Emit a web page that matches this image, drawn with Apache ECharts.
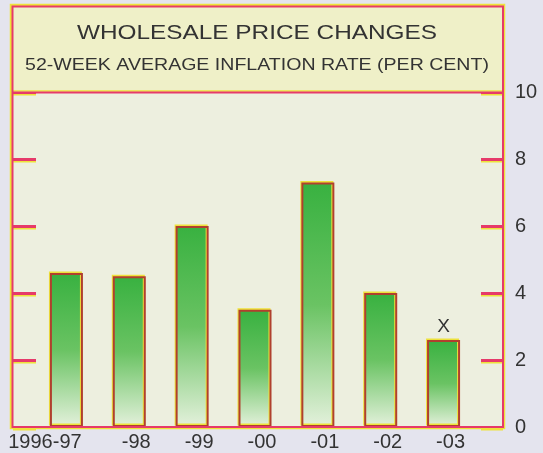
<!DOCTYPE html>
<html>
<head>
<meta charset="utf-8">
<script src="https://cdn.jsdelivr.net/npm/echarts@6/dist/echarts.min.js"></script>
<style>
  html, body { margin: 0; padding: 0; background: #e4e4ee; }
  #chart { width: 543px; height: 453px; }
</style>
</head>
<body>
<div id="chart"></div>
<script>
const categories = ['1996-97', '-98', '-99', '-00', '-01', '-02', '-03'];
const inflation = [4.6, 4.5, 6.0, 3.5, 7.3, 4.0, 2.6];
const markLabels = ['', '', '', '', '', '', 'X'];
const yTicks = [0, 2, 4, 6, 8, 10];

const RED = '#e63a6a';
const YEL = '#eee23a';
const TXT = '#333333';

const chart = echarts.init(document.getElementById('chart'), null, { renderer: 'canvas' });

const barGradient = new echarts.graphic.LinearGradient(0, 0, 0, 1, [
  { offset: 0, color: '#38b140' },
  { offset: 0.5, color: '#6ac363' },
  { offset: 1, color: '#e4f1dc' }
]);

const option = {
  backgroundColor: '#e4e4ee',
  animation: false,
  grid: [
    { left: 35, width: 440, top: 92, height: 335, show: false },
    { left: 13, width: 490, top: 92, height: 335, show: true,
      backgroundColor: '#edefdf', borderWidth: 0 }
  ],
  xAxis: [
    {
      type: 'category', gridIndex: 0,
      data: categories.map((c, i) => ({
        value: c,
        textStyle: i === 0 ? { padding: [0, 43, 0, 0] } : { padding: [0, 0, 0, 14] }
      })),
      axisLine: { show: false }, axisTick: { show: false },
      axisLabel: { color: TXT, fontSize: 20, fontFamily: 'Liberation Sans', margin: 5, interval: 0 }
    },
    { type: 'category', gridIndex: 1, data: categories, show: false }
  ],
  yAxis: [
    { type: 'value', gridIndex: 0, min: 0, max: 10, show: false },
    {
      type: 'value', gridIndex: 1, position: 'left', min: 0, max: 10, interval: 2,
      axisLine: { show: false }, splitLine: { show: false }, axisLabel: { show: false },
      axisTick: { show: true, inside: true, length: 23,
        lineStyle: { color: RED, width: 3, shadowColor: YEL, shadowOffsetY: 1.5 } }
    },
    {
      type: 'value', gridIndex: 1, position: 'right', min: 0, max: 10, interval: 2,
      axisLine: { show: false }, splitLine: { show: false },
      axisLabel: { color: TXT, fontSize: 20, fontFamily: 'Liberation Sans', margin: 12,
        formatter: v => yTicks.includes(v) ? String(v) : '' },
      axisTick: { show: true, inside: true, length: 22,
        lineStyle: { color: RED, width: 3, shadowColor: YEL, shadowOffsetY: 1.5 } }
    }
  ],
  series: [
    {
      type: 'bar', xAxisIndex: 0, yAxisIndex: 0,
      data: inflation,
      barWidth: 33,
      itemStyle: {
        color: barGradient,
        borderColor: '#b0402e',
        borderWidth: 2,
        shadowColor: YEL, shadowOffsetX: -1, shadowOffsetY: -1.5, shadowBlur: 0
      },
      label: {
        show: true, position: 'top', distance: 4,
        color: TXT, fontSize: 19, fontFamily: 'Liberation Sans',
        formatter: p => markLabels[p.dataIndex]
      },
      z: 5
    }
  ],
  graphic: [
    { type: 'rect', shape: { x: 12, y: 6, width: 491, height: 86 },
      style: { fill: '#eff0c8' }, z: 1 },
    { type: 'rect', shape: { x: 11, y: 5, width: 493, height: 423 },
      style: { fill: 'none', stroke: YEL, lineWidth: 2.5 }, z: 50 },
    { type: 'rect', shape: { x: 12.5, y: 6.5, width: 490.5, height: 420.5 },
      style: { fill: 'none', stroke: RED, lineWidth: 2 }, z: 51 },
    { type: 'line', shape: { x1: 12, y1: 91, x2: 503, y2: 91 },
      style: { stroke: YEL, lineWidth: 1.5 }, z: 50 },
    { type: 'line', shape: { x1: 12, y1: 92.5, x2: 503, y2: 92.5 },
      style: { stroke: RED, lineWidth: 2 }, z: 51 },
    { type: 'text', x: 257, y: 33, scaleX: 1.16, z: 60,
      style: { text: 'WHOLESALE PRICE CHANGES', fill: TXT,
        font: '21px "Liberation Sans"', align: 'center', verticalAlign: 'middle' } },
    { type: 'text', x: 257, y: 65, scaleX: 1.15, z: 60,
      style: { text: '52-WEEK AVERAGE INFLATION RATE (PER CENT)', fill: TXT,
        font: '17px "Liberation Sans"', align: 'center', verticalAlign: 'middle' } }
  ]
};

chart.setOption(option);
</script>
</body>
</html>
